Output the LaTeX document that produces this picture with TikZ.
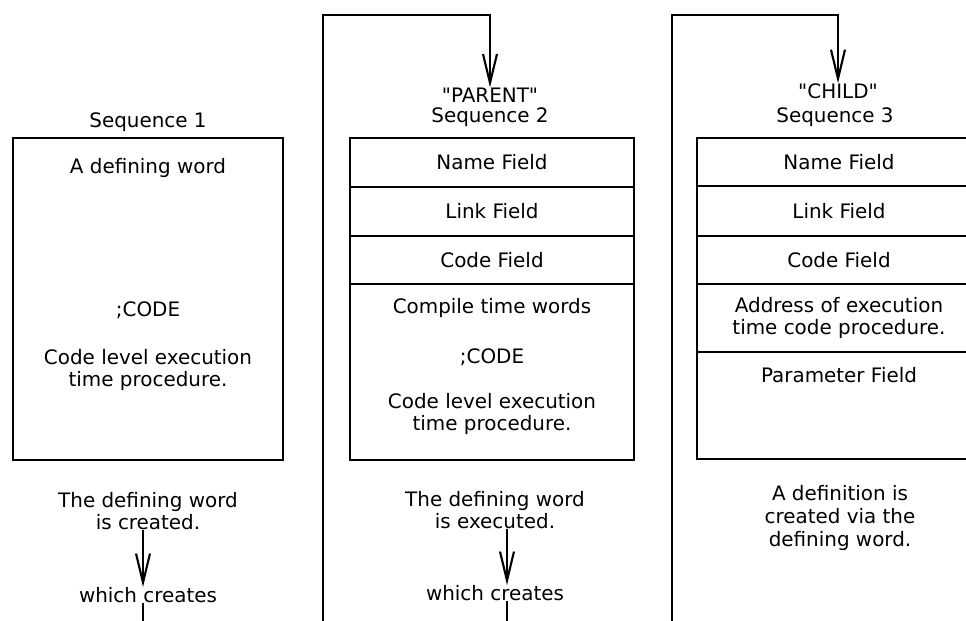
\documentclass[tikz,border=0pt]{standalone}
\usepackage{fontspec}
\setmainfont{DejaVu Sans}[Ligatures=TeXOff]
\usetikzlibrary{arrows.meta}
\begin{document}
\begin{tikzpicture}[x=0.03cm, y=-0.03cm,
    every node/.style={font=\fontsize{17}{19.5}\selectfont, inner sep=0pt, align=center},
    field/.style={draw, line width=2.4pt, outer sep=0pt, anchor=north west, minimum width=8.52cm},
    flow/.style={line width=1.8pt, -{Straight Barb[length=8.7mm, width=4.2mm]}}]
  \useasboundingbox (0,0) rectangle (966,621);
  \clip (0,0) rectangle (966,621);

  % sequence 1
  \node (seq1) at (148,122) {Sequence 1};
  \node[field, minimum width=8.1cm, minimum height=9.66cm] (def) at (13,138) {};
  \node (def-word) at (148,168) {A defining word};
  \node (def-code) at (148,310) {;CODE};
  \node (def-proc) at (148,370) {Code level execution\\time procedure.};
  \node (made1) at (148,511) {The defining word\\is created.};
  \node (wc1) at (148,595) {which creates};

  % sequence 2, the parent
  \node (parent) at (490,95) {"PARENT"};
  \node (seq2) at (490,117) {Sequence 2};
  \node[field, minimum height=1.47cm] (p-name) at (350,138) {Name Field};
  \node[field, minimum height=1.47cm] (p-link) at (p-name.south west) {Link Field};
  \node[field, minimum height=1.44cm] (p-code) at (p-link.south west) {Code Field};
  \node[field, minimum height=5.28cm] (p-body) at (p-code.south west) {};
  \node (p-comp) at (492,308) {Compile time words};
  \node (p-semi) at (492,357) {;CODE};
  \node (p-proc) at (492,414) {Code level execution\\time procedure.};
  \node (made2) at (495,510) {The defining word\\is executed.};
  \node (wc2) at (495,593) {which creates};

  % sequence 3, the child
  \node (child) at (838,91) {"CHILD"};
  \node (seq3) at (835,117) {Sequence 3};
  \node[field, minimum height=1.44cm] (c-name) at (697,138) {Name Field};
  \node[field, minimum height=1.5cm] (c-link) at (c-name.south west) {Link Field};
  \node[field, minimum height=1.44cm] (c-code) at (c-link.south west) {Code Field};
  \node[field, minimum height=2.04cm] (c-addr) at (c-code.south west) {Address of execution\\time code procedure.};
  \node[field, minimum height=3.21cm] (c-param) at (c-addr.south west) {};
  \node (c-ptext) at (839,375) {Parameter Field};
  \node (made3) at (840,518) {A definition is\\created via the\\defining word.};

  % connectors
  \draw[flow] (143,0 |- made1.south) -- (143,0 |- wc1.north);
  \draw[flow] (143,0 |- wc1.south) -- (143,660) -| (323,15) -| (parent.north);
  \draw[flow] (507,0 |- made2.south) -- (507,0 |- wc2.north);
  \draw[flow] (507,0 |- wc2.south) -- (507,660) -| (672,15) -| (child.north);
\end{tikzpicture}
\end{document}
